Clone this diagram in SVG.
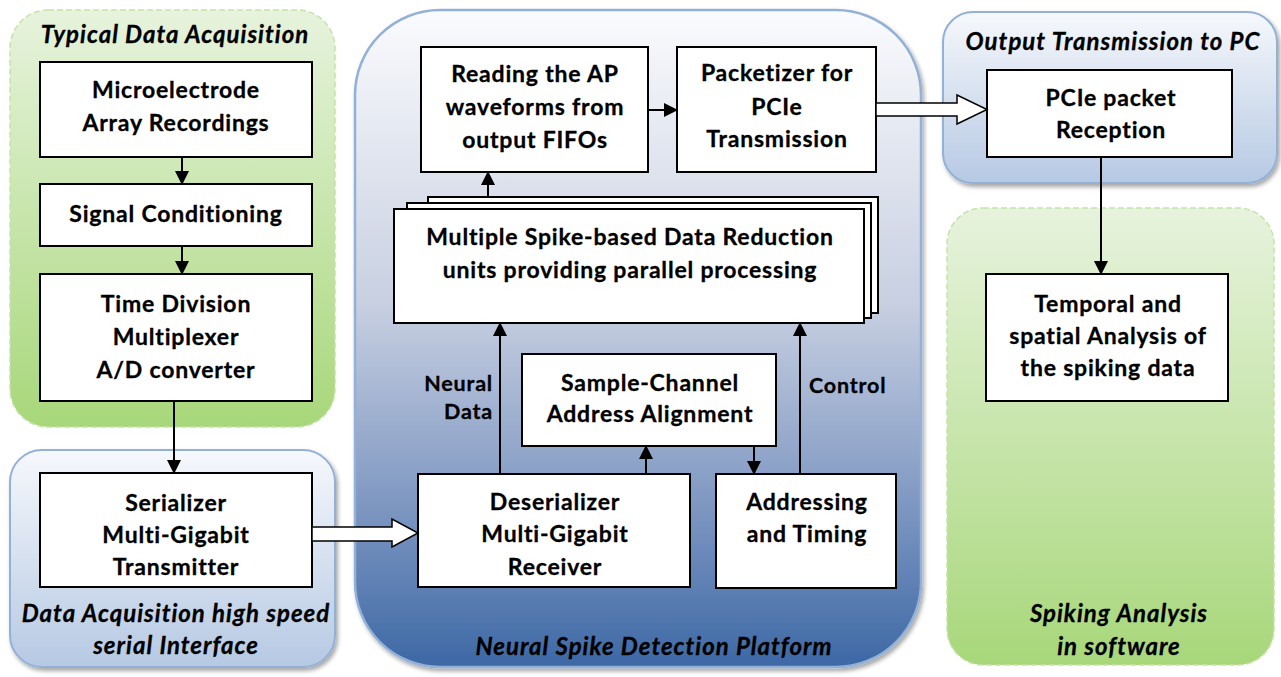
<svg xmlns="http://www.w3.org/2000/svg" width="1281" height="677" viewBox="0 0 1281 677">
  <defs>
    <linearGradient id="gGreen" x1="0" y1="0" x2="0" y2="1">
      <stop offset="0" stop-color="#e7f3dd"/>
      <stop offset="1" stop-color="#a8d77a"/>
    </linearGradient>
    <linearGradient id="gBlueSmall" x1="0" y1="0" x2="0" y2="1">
      <stop offset="0" stop-color="#f6f8fc"/>
      <stop offset="1" stop-color="#b6c9e3"/>
    </linearGradient>
    <linearGradient id="gBlueBig" x1="0" y1="0" x2="0" y2="1">
      <stop offset="0" stop-color="#fafbfd"/>
      <stop offset="0.45" stop-color="#c7cfe1"/>
      <stop offset="0.75" stop-color="#7f98c2"/>
      <stop offset="1" stop-color="#3d68a5"/>
    </linearGradient>
    <filter id="shadow" x="-5%" y="-5%" width="112%" height="115%">
      <feDropShadow dx="2" dy="3" stdDeviation="2" flood-color="#000" flood-opacity="0.35"/>
    </filter>
    <marker id="arrow" markerUnits="userSpaceOnUse" markerWidth="14" markerHeight="14" refX="13" refY="7" orient="auto">
      <path d="M0,0 L14,7 L0,14 Z" fill="#000"/>
    </marker>
  </defs>
  <style>
    .panelG { fill: url(#gGreen); stroke: #c5e2aa; stroke-width: 1.5; stroke-dasharray: 6 3; }
    .panelB { fill: url(#gBlueSmall); stroke: #93b1d6; stroke-width: 2; filter: url(#shadow); }
    .panelC { fill: url(#gBlueBig); stroke: #93b1d6; stroke-width: 2.5; filter: url(#shadow); }
    .box { fill: #fff; stroke: #000; stroke-width: 2; }
    .t { font-family: Lato, "Liberation Sans", sans-serif; font-weight: bold; font-size: 23px; letter-spacing: 0.8px; fill: #000; stroke: #000; stroke-width: 0.3px; text-anchor: middle; }
    .lbl { font-family: Lato, "Liberation Sans", sans-serif; font-weight: bold; font-size: 21.5px; letter-spacing: 0.8px; fill: #000; stroke: #000; stroke-width: 0.3px; }
    .ttl { font-family: Lato, "Liberation Sans", sans-serif; font-weight: bold; font-style: italic; font-size: 24px; letter-spacing: 1px; fill: #000; stroke: #000; stroke-width: 0.3px; text-anchor: middle; }
    .con { stroke: #000; stroke-width: 2; fill: none; marker-end: url(#arrow); }
    .hollow { fill: #fff; stroke: #000; stroke-width: 1.5; stroke-linejoin: miter; }
  </style>

  <!-- background panels -->
  <g id="panel-acquisition">
    <rect class="panelG" x="10" y="10" width="325" height="417" rx="38"/>
    <text class="ttl" x="175" y="43">Typical Data Acquisition</text>
  </g>
  <g id="panel-serial">
    <rect class="panelB" x="10" y="450" width="325" height="217" rx="32"/>
    <text class="ttl" x="176" y="622">Data Acquisition high speed</text>
    <text class="ttl" x="176" y="654">serial Interface</text>
  </g>
  <g id="panel-platform">
    <rect class="panelC" x="355" y="10" width="566" height="657" rx="85"/>
    <text class="ttl" x="654" y="655">Neural Spike Detection Platform</text>
  </g>
  <g id="panel-output">
    <rect class="panelB" x="943" y="12" width="334" height="171" rx="30"/>
    <text class="ttl" x="1113" y="50">Output Transmission to PC</text>
  </g>
  <g id="panel-software">
    <rect class="panelG" x="947" y="208" width="327" height="457" rx="36"/>
    <text class="ttl" x="1119" y="622">Spiking Analysis</text>
    <text class="ttl" x="1119" y="655">in software</text>
  </g>

  <!-- blocks -->
  <g id="mea">
    <rect class="box" x="40" y="62" width="272" height="95"/>
    <text class="t" x="176" y="98">Microelectrode</text>
    <text class="t" x="176" y="131">Array Recordings</text>
  </g>
  <g id="conditioning">
    <rect class="box" x="40" y="184" width="272" height="62"/>
    <text class="t" x="176" y="222">Signal Conditioning</text>
  </g>
  <g id="mux-adc">
    <rect class="box" x="40" y="274" width="272" height="127"/>
    <text class="t" x="176" y="312">Time Division</text>
    <text class="t" x="176" y="345">Multiplexer</text>
    <text class="t" x="176" y="378">A/D converter</text>
  </g>
  <g id="serializer">
    <rect class="box" x="40" y="473" width="272" height="114"/>
    <text class="t" x="176" y="511">Serializer</text>
    <text class="t" x="176" y="543">Multi-Gigabit</text>
    <text class="t" x="176" y="575">Transmitter</text>
  </g>
  <g id="reading">
    <rect class="box" x="421" y="47" width="227" height="125"/>
    <text class="t" x="535" y="82">Reading the AP</text>
    <text class="t" x="535" y="115">waveforms from</text>
    <text class="t" x="535" y="148">output FIFOs</text>
  </g>
  <g id="packetizer">
    <rect class="box" x="677" y="47" width="199" height="125"/>
    <text class="t" x="777" y="81">Packetizer for</text>
    <text class="t" x="777" y="115">PCIe</text>
    <text class="t" x="777" y="147">Transmission</text>
  </g>
  <g id="reduction-units">
    <rect class="box" x="428" y="197" width="450" height="116"/>
    <rect class="box" x="407" y="203" width="464" height="115"/>
    <rect class="box" x="394" y="209" width="470" height="114"/>
    <text class="t" x="630" y="245">Multiple Spike-based Data Reduction</text>
    <text class="t" x="630" y="278">units providing parallel processing</text>
  </g>
  <g id="alignment">
    <rect class="box" x="522" y="354" width="254" height="92"/>
    <text class="t" x="650" y="391">Sample-Channel</text>
    <text class="t" x="650" y="422">Address Alignment</text>
  </g>
  <g id="deserializer">
    <rect class="box" x="418" y="474" width="272" height="113"/>
    <text class="t" x="555" y="510">Deserializer</text>
    <text class="t" x="555" y="542">Multi-Gigabit</text>
    <text class="t" x="555" y="575">Receiver</text>
  </g>
  <g id="addressing">
    <rect class="box" x="716" y="474" width="180" height="114"/>
    <text class="t" x="807" y="510">Addressing</text>
    <text class="t" x="807" y="542">and Timing</text>
  </g>
  <g id="pcie-rx">
    <rect class="box" x="987" y="70" width="245" height="87"/>
    <text class="t" x="1111" y="106">PCIe packet</text>
    <text class="t" x="1111" y="138">Reception</text>
  </g>
  <g id="analysis">
    <rect class="box" x="986" y="274" width="242" height="127"/>
    <text class="t" x="1108" y="312">Temporal and</text>
    <text class="t" x="1108" y="344">spatial Analysis of</text>
    <text class="t" x="1108" y="376">the spiking data</text>
  </g>

  <!-- connectors -->
  <g id="connectors">
    <line class="con" x1="182" y1="157" x2="182" y2="184"/>
    <line class="con" x1="182" y1="246" x2="182" y2="274"/>
    <line class="con" x1="174" y1="401" x2="174" y2="473"/>
    <line class="con" x1="488" y1="197" x2="488" y2="172"/>
    <line class="con" x1="648" y1="110" x2="677" y2="110"/>
    <line class="con" x1="500" y1="474" x2="500" y2="323"/>
    <line class="con" x1="646" y1="474" x2="646" y2="446"/>
    <line class="con" x1="754" y1="446" x2="754" y2="474"/>
    <line class="con" x1="800" y1="474" x2="800" y2="323"/>
    <line class="con" x1="1101" y1="157" x2="1101" y2="274"/>
    <polygon class="hollow" points="312,527 392,527 392,519 418,533 392,547 392,541 312,541"/>
    <polygon class="hollow" points="876,103 957,103 957,95 987,109.5 957,124 957,116 876,116"/>
    <text class="lbl" x="493" y="391" text-anchor="end">Neural</text>
    <text class="lbl" x="493" y="419" text-anchor="end">Data</text>
    <text class="lbl" x="809" y="393">Control</text>
  </g>
</svg>
